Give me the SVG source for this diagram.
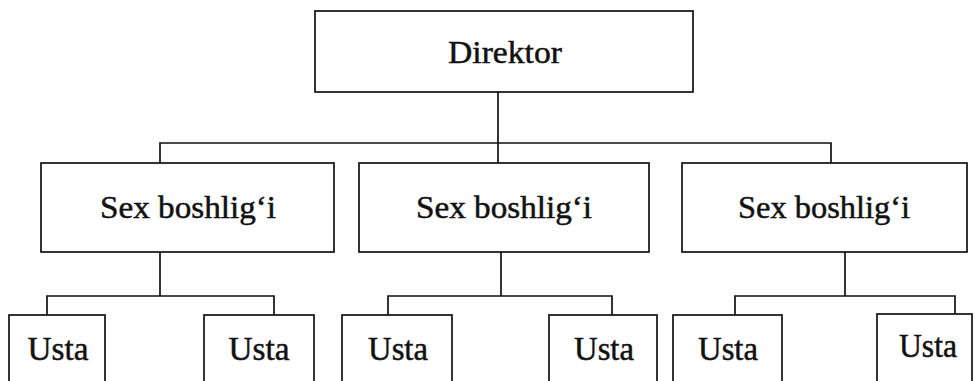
<svg xmlns="http://www.w3.org/2000/svg" width="975" height="381" viewBox="0 0 975 381">
<style>
rect{fill:#fff;stroke:#111;stroke-width:1.7}
.c{fill:none;stroke:#111;stroke-width:1.7}
text{font-family:"Liberation Serif","Times New Roman",serif;fill:#111;stroke:#111;stroke-width:0.5;text-anchor:middle}
.d{font-size:31px}
.s{font-size:32px}
.u{font-size:34px}
</style>
<rect width="975" height="381" style="fill:#fff;stroke:none"/>
<g id="connectors">
<path class="c" d="M498 92V163M160 163V143H831V163"/>
<path class="c" d="M160 252V296M47 315V296H274V315"/>
<path class="c" d="M501 252V296M388 315V296H612V315"/>
<path class="c" d="M845 252V296M735 315V296H955V315"/>
</g>
<g id="director"><rect x="315" y="11" width="378" height="81"/><text class="d" x="505" y="63" textLength="114" lengthAdjust="spacingAndGlyphs">Direktor</text></g>
<g id="sex1"><rect x="41" y="163" width="293" height="89"/><text class="s" x="188" y="218" textLength="176" lengthAdjust="spacingAndGlyphs">Sex boshlig‘i</text></g>
<g id="sex2"><rect x="359" y="163" width="290" height="89"/><text class="s" x="504" y="218" textLength="176" lengthAdjust="spacingAndGlyphs">Sex boshlig‘i</text></g>
<g id="sex3"><rect x="682" y="163" width="285" height="89"/><text class="s" x="824" y="218" textLength="172" lengthAdjust="spacingAndGlyphs">Sex boshlig‘i</text></g>
<g id="usta1"><rect x="9" y="315" width="96" height="80"/><text class="u" x="58" y="360" textLength="61" lengthAdjust="spacingAndGlyphs">Usta</text></g>
<g id="usta2"><rect x="204" y="315" width="110" height="80"/><text class="u" x="259" y="360" textLength="61" lengthAdjust="spacingAndGlyphs">Usta</text></g>
<g id="usta3"><rect x="342" y="315" width="110" height="80"/><text class="u" x="398" y="360" textLength="60" lengthAdjust="spacingAndGlyphs">Usta</text></g>
<g id="usta4"><rect x="549" y="315" width="108" height="80"/><text class="u" x="604" y="360" textLength="60" lengthAdjust="spacingAndGlyphs">Usta</text></g>
<g id="usta5"><rect x="673" y="315" width="109" height="80"/><text class="u" x="728" y="360" textLength="60" lengthAdjust="spacingAndGlyphs">Usta</text></g>
<g id="usta6"><rect x="877" y="314" width="95" height="80"/><text class="u" x="928" y="357" textLength="58" lengthAdjust="spacingAndGlyphs">Usta</text></g>
</svg>
